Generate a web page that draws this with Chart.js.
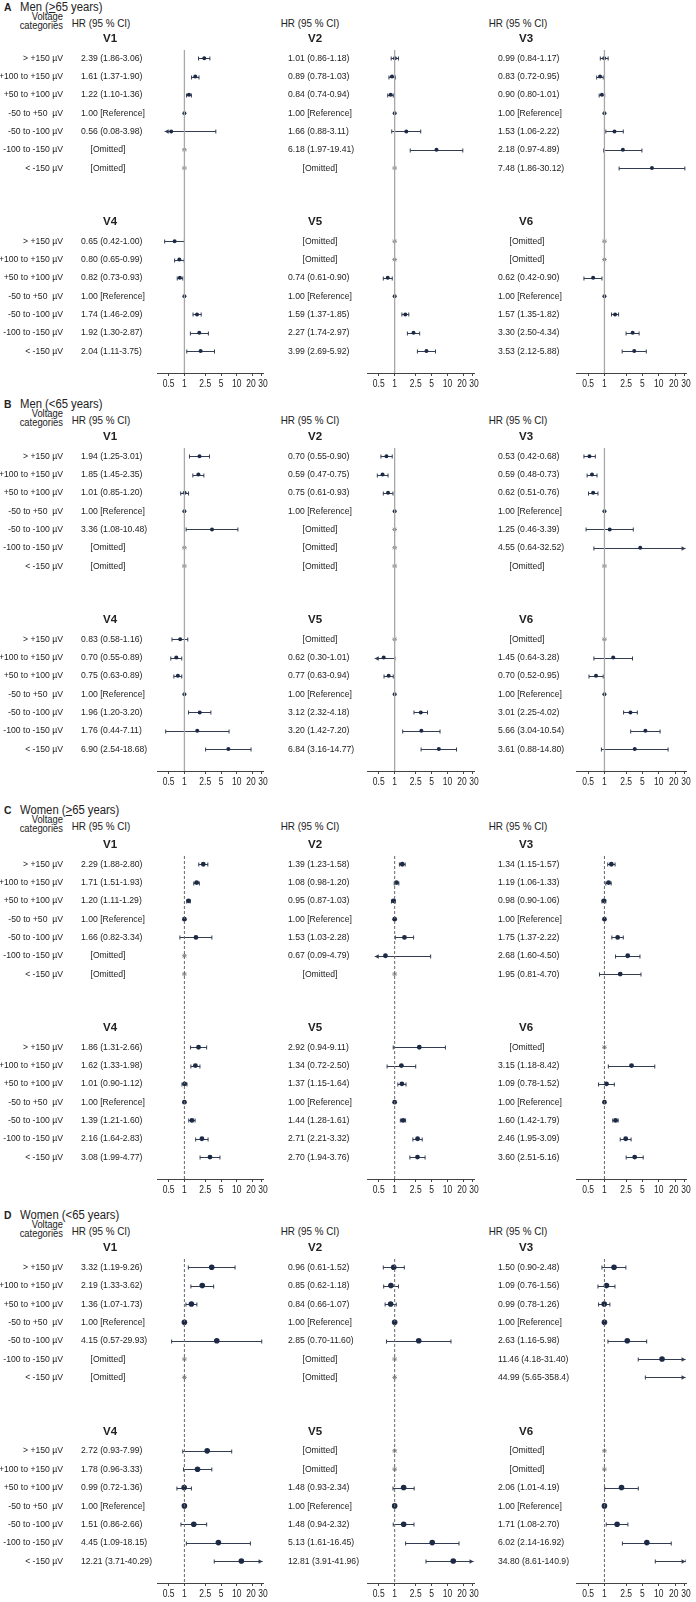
<!DOCTYPE html>
<html>
<head>
<meta charset="utf-8">
<script src="https://cdn.jsdelivr.net/npm/chart.js@4.4.1/dist/chart.umd.min.js"></script>
<style>
  body { margin: 0; background: #fff; font-family: "Liberation Sans", Arial, sans-serif; color: #222; }
  #page { position: relative; width: 696px; height: 1602px; overflow: hidden; }
  .t { position: absolute; white-space: nowrap; line-height: 1; }
  canvas { position: absolute; }
</style>
</head>
<body>
<div id="page"></div>
<script>
// rows of every sub plot, top to bottom
const categories = ['> +150 µV', '+100 to +150 µV', '+50 to +100 µV', '-50 to +50  µV', '-50 to -100 µV', '-100 to -150 µV', '< -150 µV'];
const leads = ['V1', 'V2', 'V3', 'V4', 'V5', 'V6'];
const panelLetters = ['A', 'B', 'C', 'D'];
const panelGroups = ['Men (<u>&gt;</u>65 years)', 'Men (&lt;65 years)', 'Women (<u>&gt;</u>65 years)', 'Women (&lt;65 years)'];
const xTicks = [0.5, 1, 2.5, 5, 10, 20, 30];

// [HR, lower, upper]; REF = reference group, null = omitted
const REF = [1];
const A_V1 = [[2.39, 1.86, 3.06], [1.61, 1.37, 1.90], [1.22, 1.10, 1.36], REF, [0.56, 0.08, 3.98], null, null];
const A_V2 = [[1.01, 0.86, 1.18], [0.89, 0.78, 1.03], [0.84, 0.74, 0.94], REF, [1.66, 0.88, 3.11], [6.18, 1.97, 19.41], null];
const A_V3 = [[0.99, 0.84, 1.17], [0.83, 0.72, 0.95], [0.90, 0.80, 1.01], REF, [1.53, 1.06, 2.22], [2.18, 0.97, 4.89], [7.48, 1.86, 30.12]];
const A_V4 = [[0.65, 0.42, 1.00], [0.80, 0.65, 0.99], [0.82, 0.73, 0.93], REF, [1.74, 1.46, 2.09], [1.92, 1.30, 2.87], [2.04, 1.11, 3.75]];
const A_V5 = [null, null, [0.74, 0.61, 0.90], REF, [1.59, 1.37, 1.85], [2.27, 1.74, 2.97], [3.99, 2.69, 5.92]];
const A_V6 = [null, null, [0.62, 0.42, 0.90], REF, [1.57, 1.35, 1.82], [3.30, 2.50, 4.34], [3.53, 2.12, 5.88]];

const B_V1 = [[1.94, 1.25, 3.01], [1.85, 1.45, 2.35], [1.01, 0.85, 1.20], REF, [3.36, 1.08, 10.48], null, null];
const B_V2 = [[0.70, 0.55, 0.90], [0.59, 0.47, 0.75], [0.75, 0.61, 0.93], REF, null, null, null];
const B_V3 = [[0.53, 0.42, 0.68], [0.59, 0.48, 0.73], [0.62, 0.51, 0.76], REF, [1.25, 0.46, 3.39], [4.55, 0.64, 32.52], null];
const B_V4 = [[0.83, 0.58, 1.16], [0.70, 0.55, 0.89], [0.75, 0.63, 0.89], REF, [1.96, 1.20, 3.20], [1.76, 0.44, 7.11], [6.90, 2.54, 18.68]];
const B_V5 = [null, [0.62, 0.30, 1.01], [0.77, 0.63, 0.94], REF, [3.12, 2.32, 4.18], [3.20, 1.42, 7.20], [6.84, 3.16, 14.77]];
const B_V6 = [null, [1.45, 0.64, 3.28], [0.70, 0.52, 0.95], REF, [3.01, 2.25, 4.02], [5.66, 3.04, 10.54], [3.61, 0.88, 14.80]];

const C_V1 = [[2.29, 1.88, 2.80], [1.71, 1.51, 1.93], [1.20, 1.11, 1.29], REF, [1.66, 0.82, 3.34], null, null];
const C_V2 = [[1.39, 1.23, 1.58], [1.08, 0.98, 1.20], [0.95, 0.87, 1.03], REF, [1.53, 1.03, 2.28], [0.67, 0.09, 4.79], null];
const C_V3 = [[1.34, 1.15, 1.57], [1.19, 1.06, 1.33], [0.98, 0.90, 1.06], REF, [1.75, 1.37, 2.22], [2.68, 1.60, 4.50], [1.95, 0.81, 4.70]];
const C_V4 = [[1.86, 1.31, 2.66], [1.62, 1.33, 1.98], [1.01, 0.90, 1.12], REF, [1.39, 1.21, 1.60], [2.16, 1.64, 2.83], [3.08, 1.99, 4.77]];
const C_V5 = [[2.92, 0.94, 9.11], [1.34, 0.72, 2.50], [1.37, 1.15, 1.64], REF, [1.44, 1.28, 1.61], [2.71, 2.21, 3.32], [2.70, 1.94, 3.76]];
const C_V6 = [null, [3.15, 1.18, 8.42], [1.09, 0.78, 1.52], REF, [1.60, 1.42, 1.79], [2.46, 1.95, 3.09], [3.60, 2.51, 5.16]];

const D_V1 = [[3.32, 1.19, 9.26], [2.19, 1.33, 3.62], [1.36, 1.07, 1.73], REF, [4.15, 0.57, 29.93], null, null];
const D_V2 = [[0.96, 0.61, 1.52], [0.85, 0.62, 1.18], [0.84, 0.66, 1.07], REF, [2.85, 0.70, 11.60], null, null];
const D_V3 = [[1.50, 0.90, 2.48], [1.09, 0.76, 1.56], [0.99, 0.78, 1.26], REF, [2.63, 1.16, 5.98], [11.46, 4.18, 31.40], [44.99, 5.65, 358.4]];
const D_V4 = [[2.72, 0.93, 7.99], [1.78, 0.96, 3.33], [0.99, 0.72, 1.36], REF, [1.51, 0.86, 2.66], [4.45, 1.09, 18.15], [12.21, 3.71, 40.29]];
const D_V5 = [null, null, [1.48, 0.93, 2.34], REF, [1.48, 0.94, 2.32], [5.13, 1.61, 16.45], [12.81, 3.91, 41.96]];
const D_V6 = [null, null, [2.06, 1.01, 4.19], REF, [1.71, 1.08, 2.70], [6.02, 2.14, 16.92], [34.80, 8.61, 140.9]];

const panelData = [
  [A_V1, A_V2, A_V3, A_V4, A_V5, A_V6],
  [B_V1, B_V2, B_V3, B_V4, B_V5, B_V6],
  [C_V1, C_V2, C_V3, C_V4, C_V5, C_V6],
  [D_V1, D_V2, D_V3, D_V4, D_V5, D_V6]
];

// page geometry (px)
const panels = [
  { top: 0, headDy: 0, areaTop: 50, areaBottom: 373, dot: 2, dashed: false },
  { top: 398, headDy: -1, areaTop: 50, areaBottom: 373, dot: 2, dashed: false },
  { top: 806, headDy: -3, areaTop: 50, areaBottom: 373, dot: 2.4, dashed: true },
  { top: 1208, headDy: 0, areaTop: 51, areaBottom: 375, dot: 2.8, dashed: true }
];
const cols = [
  { left: 0, width: 280, areaL: 157, areaR: 263, textX: 81, omitX: 108, titleX: 110, hrX: 101 },
  { left: 280, width: 210, areaL: 367, areaR: 474, textX: 288, omitX: 320, titleX: 315, hrX: 310 },
  { left: 490, width: 206, areaL: 576, areaR: 686, textX: 498, omitX: 527, titleX: 526, hrX: 518 }
];
const CANVAS_TOP = 30, AXIS_H = 20;
const Y_MIN = -0.45, Y_MAX = 17.2, BLOCK = 10;
const X_MIN = 0.316, X_MAX = 31.6, CLIP_LO = 0.42, CLIP_HI = 31;
const FONT = '"Liberation Sans", Arial, sans-serif';
const NAVY = '#1c2a46', BAR = '#333d52';
const SQUEEZE = 0.9; // the figure text is a little condensed
const tickNudge = { 20: -1.5, 30: 1.2 };

const fmt = v => (v >= 100 ? v.toFixed(1) : v.toFixed(2));
const rowLabel = r => !r ? '[Omitted]' : r.length < 3 ? '1.00 [Reference]' : `${fmt(r[0])} (${fmt(r[1])}-${fmt(r[2])})`;

function arrow(ctx, x, y, dir) {
  ctx.beginPath();
  ctx.moveTo(x, y);
  ctx.lineTo(x - dir * 4, y - 2.2);
  ctx.lineTo(x - dir * 4, y + 2.2);
  ctx.closePath();
  ctx.fill();
}

function squeezedText(ctx, s, x, y, align, k) {
  ctx.save();
  ctx.translate(x, y);
  ctx.scale(k || SQUEEZE, 1);
  ctx.textAlign = align;
  ctx.fillText(s, 0, 0);
  ctx.restore();
}

// confidence intervals under the points, row texts and tick labels around the plot
const forestPlugin = {
  id: 'forest',
  beforeDatasetsDraw(chart, args, o) {
    const { ctx, scales: { x, y } } = chart;
    const xl = x.getPixelForValue(CLIP_LO), xr = x.getPixelForValue(CLIP_HI);
    ctx.save();
    ctx.strokeStyle = BAR;
    ctx.fillStyle = BAR;
    ctx.lineWidth = 1;
    o.series.forEach((rows, b) => rows.forEach((r, i) => {
      if (!r || r.length < 3) return;
      const py = Math.round(y.getPixelForValue(b * BLOCK + i)) + 0.5;
      let x1 = x.getPixelForValue(r[1]), x2 = x.getPixelForValue(r[2]);
      const arrowL = x1 < xl, arrowR = x2 > xr;
      x1 = Math.max(x1, xl);
      x2 = Math.min(x2, xr);
      ctx.beginPath();
      ctx.moveTo(x1, py);
      ctx.lineTo(x2, py);
      if (!arrowL) { ctx.moveTo(x1, py - 2); ctx.lineTo(x1, py + 2); }
      if (!arrowR) { ctx.moveTo(x2, py - 2); ctx.lineTo(x2, py + 2); }
      ctx.stroke();
      if (arrowR) arrow(ctx, x2, py, 1);
      if (arrowL) arrow(ctx, x1, py, -1);
    }));
    ctx.restore();
  },
  afterDraw(chart, args, o) {
    const { ctx, chartArea, scales: { x, y } } = chart;
    const c = o.col, dx = -c.left;
    ctx.save();
    ctx.fillStyle = '#222';
    ctx.textBaseline = 'middle';
    o.series.forEach((rows, b) => {
      ctx.font = 'bold 11.5px ' + FONT;
      ctx.textAlign = 'center';
      ctx.fillText(o.titles[b], c.titleX + dx, y.getPixelForValue(b * BLOCK - 1.05));
      ctx.font = '9.6px ' + FONT;
      rows.forEach((r, i) => {
        const py = y.getPixelForValue(b * BLOCK + i);
        if (o.showCats) squeezedText(ctx, categories[i], 63 + dx, py, 'right');
        if (r) squeezedText(ctx, rowLabel(r), c.textX + dx, py, 'left');
        else squeezedText(ctx, rowLabel(r), c.omitX + dx, py, 'center');
      });
    });
    // x tick labels, condensed so 20 and 30 do not collide
    ctx.font = '10px ' + FONT;
    x.ticks.forEach(t => {
      squeezedText(ctx, String(t.value), x.getPixelForValue(t.value) + (tickNudge[t.value] || 0), chartArea.bottom + 11, 'center', 0.85);
    });
    ctx.restore();
  }
};

const page = document.getElementById('page');

function addText(html, css, origin) {
  const d = document.createElement('div');
  d.className = 't';
  d.innerHTML = html;
  Object.assign(d.style, css, { transform: `scaleX(${SQUEEZE + 0.04})`, transformOrigin: origin + ' center' });
  page.appendChild(d);
}

panels.forEach((p, pi) => {
  // panel headers
  const ht = p.top + p.headDy;
  addText(panelLetters[pi], { left: '4px', top: ht + 2 + 'px', fontSize: '11px', fontWeight: 'bold' }, 'left');
  addText(panelGroups[pi], { left: '20px', top: ht + 1 + 'px', fontSize: '12px' }, 'left');
  addText('Voltage', { left: '0px', width: '63px', textAlign: 'right', top: ht + 12 + 'px', fontSize: '10px' }, 'right');
  addText('categories', { left: '0px', width: '63px', textAlign: 'right', top: ht + 21 + 'px', fontSize: '10px' }, 'right');
  cols.forEach(c => {
    addText('HR (95 % CI)', { left: c.hrX - 40 + 'px', width: '80px', textAlign: 'center', top: ht + 18 + 'px', fontSize: '10.5px' }, 'center');
  });

  cols.forEach((c, ci) => {
    const canvas = document.createElement('canvas');
    const h = p.areaBottom - CANVAS_TOP + AXIS_H;
    canvas.width = c.width;
    canvas.height = h;
    canvas.style.left = c.left + 'px';
    canvas.style.top = p.top + CANVAS_TOP + 'px';
    page.appendChild(canvas);

    const series = [panelData[pi][ci], panelData[pi][ci + 3]];
    const pts = [], omitted = [];
    series.forEach((rows, b) => rows.forEach((r, i) => {
      if (r) pts.push({ x: r[0], y: b * BLOCK + i });
      else omitted.push({ x: 1, y: b * BLOCK + i });
    }));

    new Chart(canvas.getContext('2d'), {
      type: 'scatter',
      data: {
        datasets: [
          {
            type: 'line',
            data: [{ x: 1, y: Y_MIN }, { x: 1, y: Y_MAX }],
            borderColor: p.dashed ? '#666' : '#a8a8a8',
            borderWidth: p.dashed ? 1 : 1.3,
            borderDash: p.dashed ? [3, 2] : [],
            pointRadius: 0
          },
          {
            data: omitted,
            pointStyle: 'star',
            pointRadius: 2.4,
            borderColor: '#888',
            borderWidth: 1,
            backgroundColor: '#888'
          },
          {
            data: pts,
            pointRadius: p.dot,
            backgroundColor: NAVY,
            borderColor: NAVY,
            borderWidth: 0,
            clip: 0
          }
        ]
      },
      options: {
        responsive: false,
        animation: false,
        devicePixelRatio: 1,
        layout: {
          padding: { left: c.areaL - c.left, right: c.left + c.width - c.areaR, top: p.areaTop - CANVAS_TOP, bottom: 0 }
        },
        plugins: {
          legend: { display: false },
          tooltip: { enabled: false },
          forest: { series: series, titles: [leads[ci], leads[ci + 3]], col: c, showCats: ci === 0 }
        },
        scales: {
          x: {
            type: 'logarithmic',
            min: X_MIN,
            max: X_MAX,
            afterBuildTicks: s => { s.ticks = xTicks.map(v => ({ value: v })); },
            afterFit: s => { s.height = AXIS_H; },
            ticks: { display: false, autoSkip: false },
            grid: { drawOnChartArea: false, drawTicks: true, tickLength: 3, color: '#444' },
            border: { display: true, color: '#444' }
          },
          y: {
            type: 'linear',
            reverse: true,
            min: Y_MIN,
            max: Y_MAX,
            display: false
          }
        }
      },
      plugins: [forestPlugin]
    });
  });
});
</script>
</body>
</html>
